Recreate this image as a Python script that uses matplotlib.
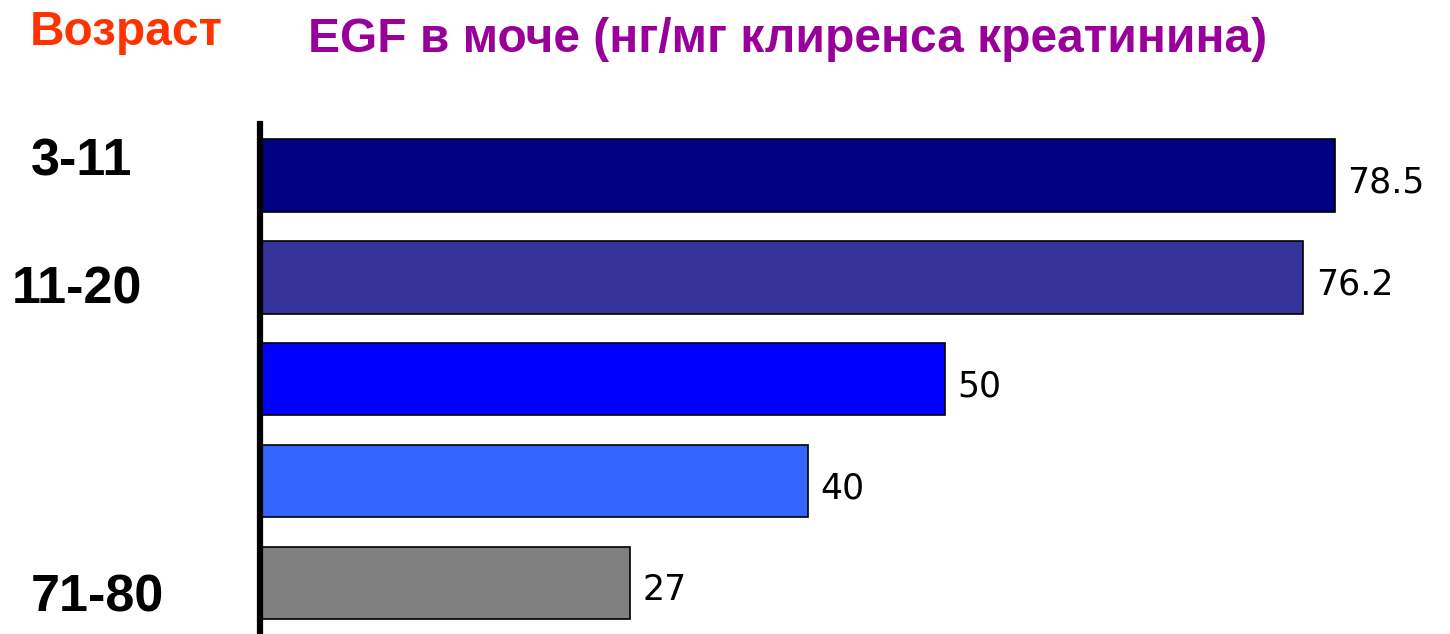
import matplotlib.pyplot as plt

ages = ["3-11", "11-20", "", "", "71-80"]
egf = [78.5, 76.2, 50, 40, 27]
value_labels = ["78.5", "76.2", "50", "40", "27"]
bar_colors = ["#000080", "#333399", "#0000FF", "#3366FF", "#808080"]

W, H = 1450, 634
fig = plt.figure(figsize=(W / 100, H / 100), dpi=100)
fig.patch.set_facecolor("white")

# axes placed in pixel terms: x=0 at 260px, y from 124px to bottom
ax = fig.add_axes([260 / W, 0, (1424 - 260) / W, (634 - 124.5) / H])
pos = list(range(len(egf)))
ax.barh(pos, egf, height=0.71, color=bar_colors, edgecolor="black", linewidth=1.2)
ax.set_xlim(0, 85)
ax.set_ylim(4.5, -0.5)

for i, v in enumerate(egf):
    ax.text(v + 0.9, i + 0.07, value_labels[i], ha="left", va="center",
            fontsize=25, family="DejaVu Sans", color="black")

for s in ["top", "right", "bottom"]:
    ax.spines[s].set_visible(False)
ax.spines["left"].set_linewidth(4.5)
ax.spines["left"].set_color("black")
ax.set_xticks([])
ax.set_yticks([])

# age labels on the left (left edge, baseline in pixels)
label_xy = {0: (31, 175), 1: (12, 303), 4: (31, 611)}
for i, lab in enumerate(ages):
    if lab:
        x, y = label_xy[i]
        fig.text(x / W, 1 - y / H, lab, ha="left", va="baseline",
                 fontsize=37.5, fontweight="bold", family="Liberation Sans", color="black")

fig.text(30 / W, 1 - 45 / H, "Возраст", ha="left", va="baseline",
         fontsize=34.5, fontweight="bold", family="Liberation Sans", color="#FF3300")
fig.text(308 / W, 1 - 52 / H, "EGF в моче (нг/мг клиренса креатинина)", ha="left", va="baseline",
         fontsize=34.5, fontweight="bold", family="Liberation Sans", color="#990099")

fig.savefig("out.png", dpi=100)
